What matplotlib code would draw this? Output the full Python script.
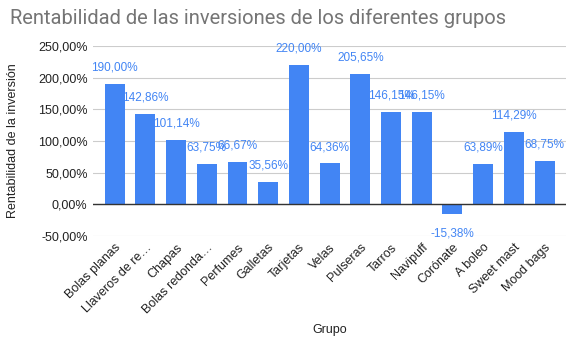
import matplotlib
matplotlib.use("Agg")
import matplotlib.pyplot as plt

categories = ["Bolas planas", "Llaveros de re…", "Chapas", "Bolas redonda…", "Perfumes",
              "Galletas", "Tarjetas", "Velas", "Pulseras", "Tarros", "Navipuff",
              "Corónate", "A boleo", "Sweet mast", "Mood bags"]
values = [190.00, 142.86, 101.14, 63.75, 66.67, 35.56, 220.00, 64.36, 205.65,
          146.15, 146.15, -15.38, 63.89, 114.29, 68.75]
yticks = [-50, 0, 50, 100, 150, 200, 250]

plt.rcParams['font.family'] = ['Liberation Sans', 'DejaVu Sans']

fig = plt.figure(figsize=(5.86, 3.59), dpi=100)
ax = fig.add_axes([0.159, 0.343, 0.807, 0.529])

blue = "#4285F4"
x = list(range(len(categories)))
ax.bar(x, values, width=0.65, color=blue, zorder=3)

def fmt(v):
    return f"{v:.2f}".replace(".", ",") + "%"

for xi, v in zip(x, values):
    if v >= 0:
        ax.annotate(fmt(v), (xi, v), xytext=(0, 7.5), textcoords="offset points",
                    ha="center", va="bottom", color=blue, fontsize=8.5, zorder=4)
    else:
        ax.annotate(fmt(v), (xi, v), xytext=(0, -9.5), textcoords="offset points",
                    ha="center", va="top", color=blue, fontsize=8.5, zorder=4)

ax.set_ylim(-50, 250)
ax.set_xlim(-0.7, len(categories) - 0.3)
ax.set_yticks(yticks)
ax.set_yticklabels([fmt(t) for t in yticks], fontsize=9, color="#222222")
ax.set_xticks(x)
ax.set_xticklabels(categories, rotation=45, ha="right", rotation_mode="anchor",
                   fontsize=9, color="#222222")
ax.tick_params(axis="both", length=0, pad=4)
ax.grid(axis="y", color="#cccccc", linewidth=0.8, zorder=0)
ax.axhline(0, color="#333333", linewidth=1, zorder=3)
for s in ax.spines.values():
    s.set_visible(False)

ax.set_ylabel("Rentabilidad de la inversión", fontsize=9, color="#222222", labelpad=14)
ax.set_xlabel("Grupo", fontsize=9, color="#222222", labelpad=6)
fig.text(0.017, 0.95, "Rentabilidad de las inversiones de los diferentes grupos",
         fontsize=14.5, color="#757575", ha="left", va="center", family=["Roboto", "DejaVu Sans"])

fig.savefig("out.png", dpi=100)
